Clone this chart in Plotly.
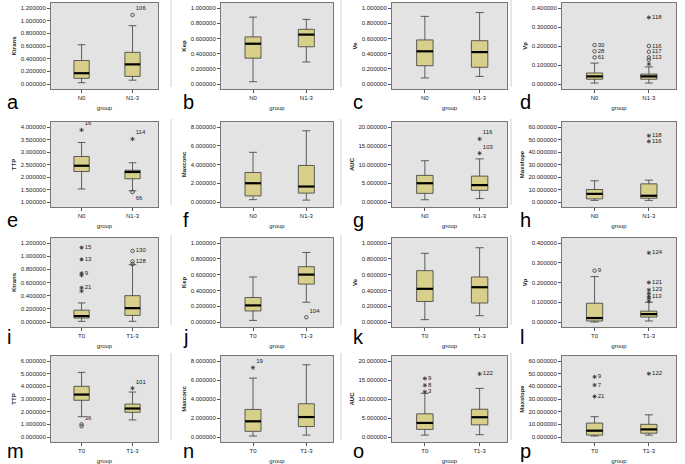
import plotly.graph_objects as go

W, H = 685, 464

panel_letters = list("abcdefghijklmnop")
y_titles = ["Ktrans", "Kep", "Ve", "Vp", "TTP", "Maxconc", "AUC", "Maxslope"] * 2
group_N = ["N0", "N1-3"]
group_T = ["T0", "T1-3"]

# tick ranges per panel (min, max, step)
tick_min = [0, 0, 0, 0, 1.0, 0, 0, 0, 0, 0, 0, 0, 0, 0, 0, 0]
tick_max = [1.2, 1.0, 1.0, 0.4, 4.0, 8.0, 20.0, 60.0, 1.2, 1.0, 1.0, 0.4, 6.0, 8.0, 20.0, 60.0]
tick_step = [0.2, 0.2, 0.2, 0.1, 0.5, 2.0, 5.0, 10.0, 0.2, 0.2, 0.2, 0.1, 1.0, 2.0, 5.0, 10.0]

# box statistics: [group0, group1] per panel
lower = [[0.02, 0.06], [0.03, 0.29], [0.08, 0.10], [0.005, 0.005],
         [1.52, 1.45], [0.25, 0.20], [0.6, 0.9], [1.3, 1.3],
         [0.01, 0.01], [0.02, 0.25], [0.03, 0.08], [0.0, 0.005],
         [1.6, 1.35], [0.1, 0.2], [0.5, 0.6], [0.8, 1.5]]
q1 = [[0.09, 0.12], [0.34, 0.49], [0.24, 0.22], [0.025, 0.025],
      [2.22, 1.93], [0.65, 0.95], [2.3, 3.1], [2.5, 3.0],
      [0.06, 0.10], [0.14, 0.48], [0.26, 0.24], [0.005, 0.025],
      [2.9, 1.95], [0.6, 1.1], [2.0, 3.2], [1.5, 3.0]]
med = [[0.17, 0.31], [0.53, 0.65], [0.43, 0.42], [0.04, 0.04],
       [2.45, 2.20], [2.0, 1.65], [5.0, 4.5], [6.5, 5.0],
       [0.09, 0.21], [0.21, 0.60], [0.42, 0.44], [0.02, 0.04],
       [3.35, 2.25], [1.65, 2.1], [3.7, 5.2], [5.0, 6.0]]
q3 = [[0.37, 0.50], [0.62, 0.72], [0.58, 0.57], [0.058, 0.052],
      [2.82, 2.27], [3.15, 3.9], [7.1, 6.9], [10.0, 14.5],
      [0.18, 0.40], [0.31, 0.70], [0.65, 0.57], [0.095, 0.055],
      [4.0, 2.6], [2.9, 3.5], [6.1, 7.3], [11.0, 10.0]]
upper = [[0.62, 0.92], [0.88, 0.85], [0.89, 0.94], [0.11, 0.09],
         [3.38, 2.57], [5.3, 7.6], [11.0, 11.5], [17.0, 17.5],
         [0.29, 0.87], [0.57, 0.88], [0.87, 0.94], [0.23, 0.10],
         [5.1, 3.55], [6.2, 7.6], [11.5, 12.8], [16.0, 17.5]]

# outliers: panel index, group index, value, case label, extreme(1)/outlier(0)
out_panel = [0, 3, 3, 3, 3, 3, 3, 3, 3, 3, 4, 4, 4, 6, 6, 7, 7,
             8, 8, 8, 8, 8, 8, 8, 8, 8, 9, 11, 11, 11, 11, 11, 11, 11, 11,
             12, 12, 12, 13, 14, 14, 14, 14, 15, 15, 15, 15]
out_group = [1, 0, 0, 0, 1, 1, 1, 1, 1, 1, 0, 1, 1, 1, 1, 1, 1,
             0, 0, 0, 0, 0, 0, 1, 1, 1, 1, 0, 1, 1, 1, 1, 1, 1, 1,
             0, 0, 1, 0, 0, 0, 0, 1, 0, 0, 0, 1]
out_value = [1.09, 0.205, 0.172, 0.14, 0.35, 0.20, 0.17, 0.14, 0.128, 0.105,
             3.88, 3.52, 1.40, 16.8, 13.0, 48.5, 53.0,
             1.13, 0.95, 0.74, 0.71, 0.52, 0.47, 1.08, 0.92, 0.88, 0.06,
             0.26, 0.35, 0.20, 0.163, 0.13, 0.145, 0.12, 0.105,
             1.0, 0.85, 3.85, 7.3, 15.4, 13.6, 11.9, 16.6, 47.5, 41.0, 32.0, 50.0]
out_label = ["106", "30", "28", "61", "118", "116", "117", "113", "", "",
             "16", "114", "66", "116", "103", "116", "118",
             "15", "13", "9", "", "21", "", "130", "128", "", "104",
             "9", "124", "121", "123", "113", "", "", "",
             "36", "", "101", "19", "9", "8", "3", "122", "9", "7", "21", "122"]
out_extreme = [0, 0, 0, 0, 1, 0, 0, 0, 0, 1,
               1, 1, 0, 1, 1, 1, 1,
               1, 1, 1, 1, 1, 1, 0, 0, 0, 0,
               0, 1, 1, 1, 1, 1, 1, 1,
               0, 0, 1, 1, 1, 1, 1, 1, 1, 1, 1, 1]

# label placement (style only)
out_textpos = ["top right"] * len(out_panel)
for k in range(len(out_panel)):
    if out_panel[k] in (3, 7, 11, 14, 15, 8):
        out_textpos[k] = "middle right"
out_textpos[12] = "bottom right"

# panel pixel geometry
cols_px = [(51, 158), (221, 333), (392, 507), (562, 676)]
rows_px = [(3, 89), (122, 207), (238, 327), (356, 442)]
letter_x = [5, 181, 351, 518]
letter_row_y = [102, 220, 337, 451]
sep_x = [171, 341, 511]

BOX_FILL = "#d8d08a"
BOX_LINE = "#3a3a3a"
BOXW = 0.3
FONT = "Liberation Sans, Arial, sans-serif"

fig = go.Figure()
layout_axes = {}

for p in range(16):
    r, c = divmod(p, 4)
    idx = p + 1
    xa = "x" if idx == 1 else f"x{idx}"
    ya = "y" if idx == 1 else f"y{idx}"
    groups = group_N if r < 2 else group_T
    for g in range(2):
        fig.add_trace(go.Box(
            x=[g], q1=[q1[p][g]], median=[med[p][g]], q3=[q3[p][g]],
            lowerfence=[lower[p][g]], upperfence=[upper[p][g]],
            width=BOXW, whiskerwidth=0.5, boxpoints=False,
            fillcolor=BOX_FILL, line=dict(color=BOX_LINE, width=0.8),
            xaxis=xa, yaxis=ya, showlegend=False, hoverinfo="skip"))
        fig.add_trace(go.Scatter(
            x=[g - BOXW / 2, g + BOXW / 2], y=[med[p][g], med[p][g]],
            mode="lines", line=dict(color="black", width=2.2),
            xaxis=xa, yaxis=ya, showlegend=False, hoverinfo="skip"))
    ox, oy, ot, osym, opos = [], [], [], [], []
    for k in range(len(out_panel)):
        if out_panel[k] == p:
            ox.append(out_group[k])
            oy.append(out_value[k])
            ot.append(out_label[k])
            osym.append("asterisk-open" if out_extreme[k] else "circle-open")
            opos.append(out_textpos[k])
    if ox:
        fig.add_trace(go.Scatter(
            x=ox, y=oy, text=ot, mode="markers+text",
            textposition=opos,
            textfont=dict(size=6, color="#222", family=FONT),
            marker=dict(symbol=osym, size=3.5, color="#333",
                        line=dict(color="#333", width=0.8)),
            xaxis=xa, yaxis=ya, showlegend=False, hoverinfo="skip"))

    x0, x1 = cols_px[c]
    t, b = rows_px[r]
    tmin, tmax, step = tick_min[p], tick_max[p], tick_step[p]
    span_px = (b - t) - 10
    s = (tmax - tmin) / span_px
    lo, hi = tmin - 5 * s, tmax + 5 * s
    nt = int(round((tmax - tmin) / step))
    tv = [tmin + i * step for i in range(nt + 1)]

    key_x = "xaxis" if idx == 1 else f"xaxis{idx}"
    key_y = "yaxis" if idx == 1 else f"yaxis{idx}"
    layout_axes[key_x] = dict(
        domain=[x0 / W, x1 / W], anchor=ya, range=[-0.6, 1.5],
        tickvals=[0, 1], ticktext=groups, showgrid=False, zeroline=False,
        ticks="outside", ticklen=3, tickcolor="#555",
        tickfont=dict(size=6, color="#222", family=FONT),
        title=dict(text="group", font=dict(size=6, color="#222", family=FONT), standoff=5),
        showline=True, mirror=True, linecolor="#777", linewidth=1)
    layout_axes[key_y] = dict(
        domain=[1 - b / H, 1 - t / H], anchor=xa, range=[lo, hi],
        tickvals=tv, tickformat=".6f", showgrid=False, zeroline=False,
        ticks="outside", ticklen=3, tickcolor="#555",
        tickfont=dict(size=6, color="#222", family=FONT),
        title=dict(text=f"<b>{y_titles[p]}</b>", font=dict(size=6, color="#222", family=FONT), standoff=3),
        showline=True, mirror=True, linecolor="#777", linewidth=1)

annotations = []
for p in range(16):
    r, c = divmod(p, 4)
    annotations.append(dict(
        text=panel_letters[p], x=letter_x[c] / W, y=1 - letter_row_y[r] / H,
        xref="paper", yref="paper", xanchor="left", yanchor="middle",
        showarrow=False, font=dict(size=20, color="black", family=FONT)))

shapes = []
for r in range(4):
    t, b = rows_px[r]
    for sx in sep_x:
        shapes.append(dict(type="line", xref="paper", yref="paper",
                           x0=sx / W, x1=sx / W, y0=1 - (b - 2) / H, y1=1 - max(t - 3, 0) / H,
                           line=dict(color="#cfcfcf", width=1)))

fig.update_layout(
    width=W, height=H, margin=dict(l=0, r=0, t=0, b=0),
    paper_bgcolor="white", plot_bgcolor="#e3e3e3",
    annotations=annotations, shapes=shapes, **layout_axes)

fig.write_html("out.html", config={"displayModeBar": False},
               post_script="document.body.style.margin='0';")
